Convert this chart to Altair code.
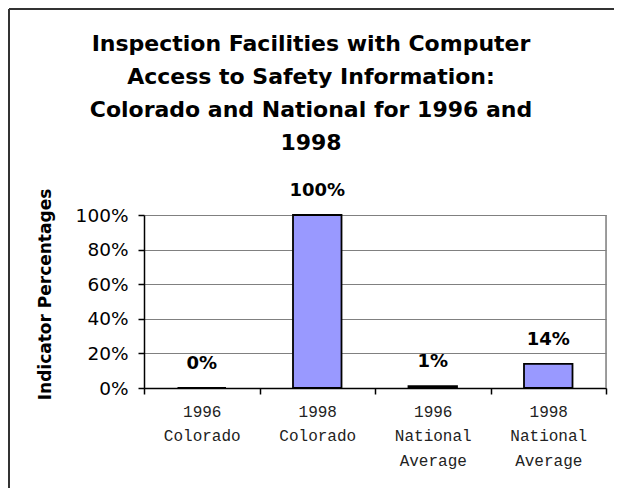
import altair as alt
import pandas as pd

categories = ["1996|Colorado", "1998|Colorado", "1996|National|Average", "1998|National|Average"]
values = [0.0, 1.0, 0.01, 0.14]
y_ticks = [0, 0.2, 0.4, 0.6, 0.8, 1.0]
title_lines = [
    "Inspection Facilities with Computer",
    "Access to Safety Information:",
    "Colorado and National for 1996 and",
    "1998",
]

W, H = 462, 173
PAD_L, PAD_T = 136, 207
CANVAS_W, CANVAS_H = 606, 480

df = pd.DataFrame({"category": categories, "value": values})

x_enc = alt.X(
    "category:N",
    sort=categories,
    scale=alt.Scale(paddingInner=0, paddingOuter=0),
    axis=alt.Axis(
        title=None,
        labelExpr="split(datum.label, '|')",
        labelAngle=0,
        labelFont="Liberation Mono",
        labelFontSize=16,
        labelColor="#222222",
        labelLineHeight=24.5,
        labelPadding=9,
        labelBaseline="top",
        labelOverlap=False,
        tickBand="extent",
        tickSize=6,
        tickColor="#000000",
        tickWidth=1.5,
        domainColor="#000000",
        domainWidth=1.5,
        grid=False,
    ),
)
y_enc = alt.Y(
    "value:Q",
    scale=alt.Scale(domain=[0, 1], nice=False),
    axis=alt.Axis(
        values=y_ticks,
        tickCount=6,
        format=".0%",
        labelFont="DejaVu Sans",
        labelFontSize=18.5,
        labelColor="#000000",
        labelPadding=10,
        labelOverlap=False,
        labelBound=False,
        tickSize=6,
        tickColor="#000000",
        tickWidth=1.5,
        domainColor="#000000",
        domainWidth=1.5,
        grid=True,
        gridColor="#808080",
        gridWidth=1,
        title="Indicator Percentages",
        titleFont="DejaVu Sans",
        titleFontSize=17,
        titleFontWeight="bold",
        titleColor="#000000",
        titleAngle=270,
        titleAlign="center",
        titleBaseline="middle",
        titleX=-99,
        titleY=79,
    ),
)

bars = alt.Chart(df).mark_bar(
    width=alt.RelativeBandSize(0.42),
    color="#9999FF",
    stroke="#000000",
    strokeWidth=1.8,
).encode(x=x_enc, y=y_enc)

labels = alt.Chart(df).mark_text(
    font="DejaVu Sans",
    fontSize=18,
    fontWeight="bold",
    color="#000000",
    baseline="alphabetic",
    dy=-19,
).encode(
    x=x_enc,
    y=y_enc,
    text=alt.Text("value:Q", format=".0%"),
)

one = pd.DataFrame({"k": [0]})
right_edge = alt.Chart(one).mark_rule(color="#808080", strokeWidth=1.5).encode(
    x=alt.value(W), y=alt.value(0), y2=alt.value(H)
)
border_left = alt.Chart(one).mark_rule(color="#333333", strokeWidth=2).encode(
    x=alt.value(-PAD_L + 1), y=alt.value(-PAD_T + 1), y2=alt.value(CANVAS_H - PAD_T)
)
border_top = alt.Chart(one).mark_rule(color="#333333", strokeWidth=2).encode(
    x=alt.value(-PAD_L + 1), x2=alt.value(CANVAS_W - PAD_L), y=alt.value(-PAD_T + 1)
)

chart = alt.layer(bars, labels, right_edge, border_left, border_top).properties(
    width=W,
    height=H,
    autosize=alt.AutoSizeParams(type="none"),
    padding={"left": PAD_L, "top": PAD_T, "right": CANVAS_W - PAD_L - W, "bottom": CANVAS_H - PAD_T - H},
    title=alt.TitleParams(
        text=title_lines,
        font="DejaVu Sans",
        fontSize=22,
        fontWeight="bold",
        color="#000000",
        lineHeight=33,
        anchor="middle",
        dx=-64,
        dy=151,
    ),
).configure_view(stroke=None).configure(background="white")

chart.save("out.html", embed_options={"renderer": "svg", "actions": False})
